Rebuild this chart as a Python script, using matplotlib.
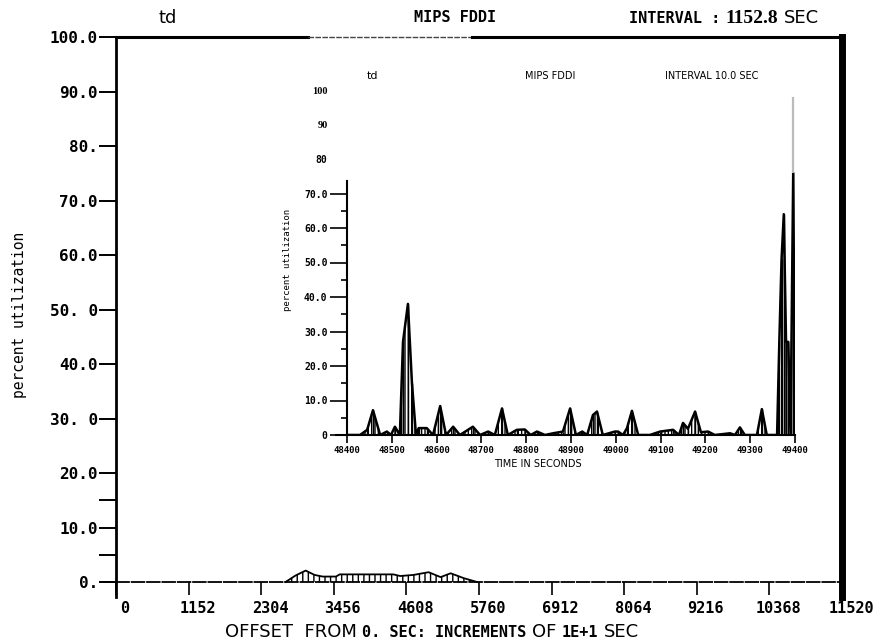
import matplotlib.pyplot as plt
from matplotlib import font_manager
from matplotlib.offsetbox import TextArea, HPacker, AnnotationBbox
from matplotlib.transforms import ScaledTranslation

# main chart: percent utilization, 1152.8 s intervals
main_xticks = [0, 1152, 2304, 3456, 4608, 5760, 6912, 8064, 9216, 10368, 11520]
main_yticks = [0, 10, 20, 30, 40, 50, 60, 70, 80, 90, 100]
main_ylabels = ['0.', '10.0', '20.0', '30. 0', '40.0', '50. 0', '60.0', '70.0', '80.', '90.0', '100.0']
main_offset = [2690, 2850, 3010, 3150, 3280, 3490, 3550, 3810, 4080, 4400, 4510, 4720,
               4960, 5150, 5310, 5520, 5730]
main_util = [0.0, 1.2, 2.1, 1.3, 1.0, 1.0, 1.4, 1.4, 1.4, 1.4, 1.1, 1.3,
             1.8, 0.9, 1.6, 0.7, 0.0]

# inset: 10 s intervals
inset_xticks = [48400, 48500, 48600, 48700, 48800, 48900, 49000, 49100, 49200, 49300, 49400]
inset_yticks = [0, 10, 20, 30, 40, 50, 60, 70, 80, 90, 100]
inset_ylabels = ['0', '10.0', '20.0', '30.0', '40.0', '50.0', '60.0', '70.0', '80', '90', '100']
inset_time = [48400, 48429, 48445, 48458, 48474, 48489, 48498, 48507, 48518, 48525, 48536, 48545,
              48554, 48560, 48578, 48592, 48608, 48621, 48637, 48652, 48681, 48697, 48715, 48730,
              48746, 48759, 48779, 48797, 48810, 48824, 48842, 48860, 48882, 48898, 48911, 48925,
              48936, 48949, 48958, 48971, 48998, 49005, 49016, 49025, 49036, 49050, 49076, 49099,
              49128, 49141, 49150, 49161, 49177, 49190, 49206, 49221, 49255, 49266, 49277, 49288,
              49315, 49326, 49337, 49360, 49365, 49370, 49375, 49380, 49385, 49390, 49396, 49400]
inset_util = [0, 0, 1.5, 7.2, 0, 1.0, 0, 2.4, 0, 27, 38, 15,
              0, 2, 2, 0, 8.4, 0, 2.4, 0, 2.4, 0, 1.0, 0,
              7.7, 0, 1.5, 1.6, 0, 1.0, 0, 0.5, 1.0, 7.7, 0, 1.0,
              0, 5.8, 6.8, 0, 1.0, 1.0, 0, 2.0, 7.0, 0, 0, 1.0,
              1.5, 0, 3.5, 1.8, 6.8, 0.8, 1.0, 0, 0.5, 0, 2.2, 0,
              0, 7.5, 0, 0, 27, 51, 64, 27, 27, 0, 76, 0]
spike_time = 49396
spike_util = 76
spike_top = 98

installed = {f.name for f in font_manager.fontManager.ttflist}
NARROW = 'Liberation Sans Narrow' if 'Liberation Sans Narrow' in installed else 'DejaVu Sans'
MONO = 'DejaVu Sans Mono'
SERIF = 'Liberation Serif'

W, H = 875, 643
fig = plt.figure(figsize=(W / 100, H / 100), dpi=100)


def box(l, t, r, b):
    return [l / W, 1 - b / H, (r - l) / W, (b - t) / H]


def fx(x):
    return x / W


def fy(y):
    return 1 - y / H


# ---------------- main axes ----------------
ax = fig.add_axes(box(116, 37, 842, 597))
ax.set_xlim(0, 11520)
ax.set_ylim(-2.75, 100)
ax.patch.set_alpha(0)

ax.spines['left'].set_linewidth(2)
ax.spines['right'].set_linewidth(5)
ax.spines['top'].set_visible(False)
ax.spines['bottom'].set_position(('data', 0))
ax.spines['bottom'].set_linewidth(1.3)
ax.spines['bottom'].set_linestyle((0, (7, 1.5)))
ax.spines['bottom'].set_bounds(-240, 11520)

# top frame line, lighter in the middle as on the print
ax.plot([0, 0.265], [1, 1], color='k', lw=2.2, transform=ax.transAxes, clip_on=False)
ax.plot([0.265, 0.49], [1, 1], color='#444444', lw=1.0, ls=(0, (4, 1)),
        transform=ax.transAxes, clip_on=False)
ax.plot([0.49, 1.0], [1, 1], color='k', lw=2.2, transform=ax.transAxes, clip_on=False)

ax.set_yticks(main_yticks, main_ylabels)
ax.set_yticks([5, 15], minor=True)
ax.tick_params(axis='y', which='both', direction='out', length=12, width=1.4, pad=1)
ax.set_xticks(main_xticks, [str(v) for v in main_xticks])
ax.tick_params(axis='x', direction='out', length=9, width=1.2, pad=5)
for lab in ax.get_yticklabels():
    lab.set_fontfamily(MONO)
    lab.set_fontweight('bold')
    lab.set_fontsize(11.5)
shift = ScaledTranslation(9 / 100, 0, fig.dpi_scale_trans)
for lab in ax.get_xticklabels():
    lab.set_fontfamily(MONO)
    lab.set_fontweight('bold')
    lab.set_fontsize(11)
    lab.set_transform(lab.get_transform() + shift)

plt.rcParams['hatch.linewidth'] = 1.0
ax.fill_between(main_offset, main_util, 0, facecolor='none', edgecolor='k', hatch='|||', lw=0)
ax.plot(main_offset, main_util, color='k', lw=1.3)

# ---------------- inset axes ----------------
ai = fig.add_axes(box(347, 90, 795, 435))
ai.set_xlim(48400, 49400)
ai.set_ylim(0, 100)
ai.patch.set_alpha(0)
ai.spines['top'].set_visible(False)
ai.spines['right'].set_visible(False)
ai.spines['left'].set_bounds(0, 73.5)
ai.spines['left'].set_linewidth(1.5)
ai.spines['bottom'].set_bounds(48375, 49400)
ai.spines['bottom'].set_linewidth(1.5)

ai.set_yticks(inset_yticks, inset_ylabels)
ai.set_yticks([5, 15, 25, 35, 45, 55, 65], minor=True)
ai.tick_params(axis='y', which='major', direction='out', length=12, width=1.2, pad=2)
ai.tick_params(axis='y', which='minor', direction='out', length=4, width=1.2)
for tick, val in zip(ai.yaxis.get_major_ticks(), inset_yticks):
    if val > 70:
        tick.tick1line.set_visible(False)
for lab, val in zip(ai.get_yticklabels(), inset_yticks):
    if val >= 90:
        lab.set_fontfamily(SERIF)
        lab.set_fontweight('bold')
        lab.set_fontsize(7.5)
    else:
        lab.set_fontfamily(MONO)
        lab.set_fontweight('bold')
        lab.set_fontsize(7)
ai.set_xticks(inset_xticks, [str(v) for v in inset_xticks])
ai.tick_params(axis='x', direction='out', length=6, width=1.2, pad=2)
for lab in ai.get_xticklabels():
    lab.set_fontfamily(MONO)
    lab.set_fontweight('bold')
    lab.set_fontsize(6.5)

ai.fill_between(inset_time, inset_util, 0, facecolor='none', edgecolor='k', hatch='|||||', lw=0)
ai.plot(inset_time, inset_util, color='k', lw=1.8)
ai.vlines(inset_time, 0, inset_util, color='k', lw=1.0)
ai.vlines([spike_time], spike_util, spike_top, color='#bbbbbb', lw=1.6)

# ---------------- text ----------------
fig.text(fx(20), fy(315), 'percent utilization', rotation=90, ha='center', va='center',
         fontfamily=MONO, fontsize=10.5)
fig.text(fx(288), fy(260), 'percent utilization', rotation=90, ha='center', va='center',
         fontfamily=MONO, fontsize=6.5)
fig.text(fx(538), fy(464), 'TIME IN SECONDS', ha='center', va='center',
         fontfamily=NARROW, fontsize=7)

fig.text(fx(168), fy(18), 'td', ha='center', va='center', fontfamily=NARROW, fontsize=13)
fig.text(fx(455), fy(18), 'MIPS FDDI', ha='center', va='center', fontfamily=MONO,
         fontweight='bold', fontsize=11)

fig.text(fx(372), fy(76), 'td', ha='center', va='center', fontfamily=NARROW, fontsize=8)
fig.text(fx(550), fy(76), 'MIPS FDDI', ha='center', va='center', fontfamily=NARROW, fontsize=7)
fig.text(fx(712), fy(76), 'INTERVAL 10.0 SEC', ha='center', va='center', fontfamily=NARROW,
         fontsize=7)


def packed(parts, xy):
    areas = [TextArea(s, textprops=p) for s, p in parts]
    pack = HPacker(children=areas, pad=0, sep=4, align='baseline')
    ab = AnnotationBbox(pack, xy, xycoords='figure fraction', frameon=False,
                        box_alignment=(0.5, 0.5), pad=0, annotation_clip=False)
    fig.add_artist(ab)


thin = dict(fontfamily=NARROW, fontsize=13)
bold = dict(fontfamily=MONO, fontweight='bold', fontsize=11)
serif = dict(fontfamily=SERIF, fontweight='bold', fontsize=14)

packed([('INTERVAL :', bold), ('1152.8', serif), ('SEC', thin)], (fx(724), fy(18)))
packed([('OFFSET  FROM', thin), ('0. SEC: INCREMENTS', bold), ('OF', thin),
        ('1E+1', bold), ('SEC', thin)], (fx(432), fy(632)))

fig.savefig('out.png', dpi=100)
